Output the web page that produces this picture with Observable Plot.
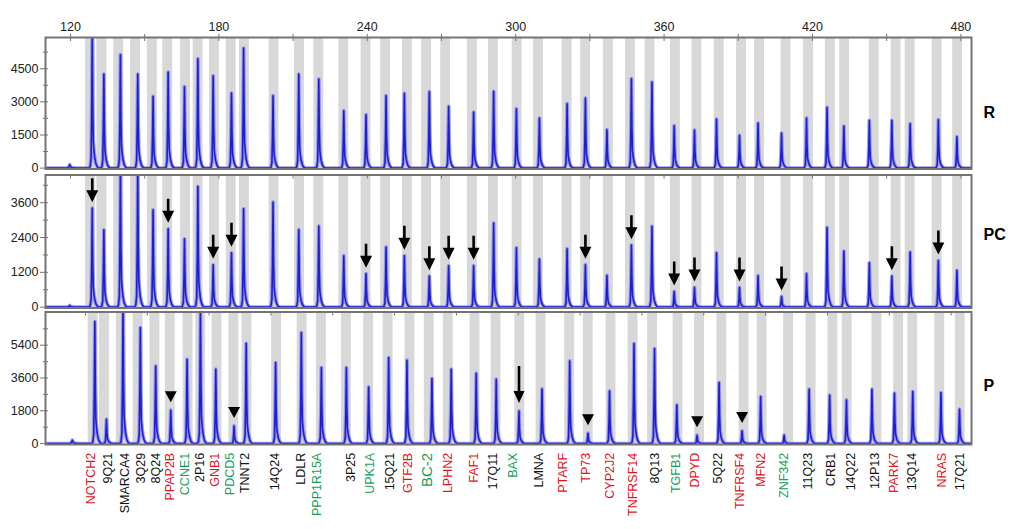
<!DOCTYPE html>
<html><head><meta charset="utf-8">
<script src="https://cdn.jsdelivr.net/npm/d3@7"></script>
<script src="https://cdn.jsdelivr.net/npm/@observablehq/plot@0.6"></script>
<style>
body{margin:0;background:#fff;font-family:"Liberation Sans",Arial,sans-serif}
#wrap{position:relative;width:1018px;height:529px}
#wrap svg{position:absolute;left:0;top:0;overflow:visible}
</style></head><body><div id="wrap"></div>
<script>
// ---------- data ----------
const probes = ["NOTCH2","9Q21","SMARCA4","3Q29","8Q24","PPAP2B","CCNE1","2P16","GNB1","PDCD5","TNNT2","14Q24","LDLR","PPP1R15A","3P25","UPK1A","15Q21","GTF2B","BC-2","LPHN2","FAF1","17Q11","BAX","LMNA","PTARF","TP73","CYP2J2","TNFRSF14","8Q13","TGFB1","DPYD","5Q22","TNFRSF4","MFN2","ZNF342","11Q23","CRB1","14Q22","12P13","PARK7","13Q14","NRAS","17Q21"];
const labelGroup = ["r","k","k","k","k","r","g","k","r","g","k","k","k","g","k","g","k","r","g","r","r","k","g","k","r","r","r","r","k","g","r","k","r","r","g","k","k","k","k","r","k","r","k"];
// peak sizes (nt)
const peakPos = [128.8,133.5,140.2,147.2,153.4,159.5,166.1,171.5,177.7,185.1,190.0,201.9,212.3,220.4,230.5,239.5,247.6,255.0,265.1,272.9,283.0,291.1,300.3,309.6,320.8,328.2,336.9,346.8,355.1,364.1,372.3,381.2,390.5,398.0,407.5,417.6,425.9,432.7,443.0,452.1,459.5,470.9,478.4];
// expected size bins (grey bands)
const binPos = [128.1,132.7,139.5,146.3,153.1,159.3,166.5,171.6,178.2,185.0,190.3,202.3,212.6,220.4,230.5,239.5,247.4,256.2,264.0,271.7,282.5,291.0,300.6,309.2,320.8,328.3,337.5,346.4,354.3,364.6,373.3,382.3,391.3,398.6,409.3,418.4,427.2,433.0,445.0,453.8,459.5,470.4,478.7];
// label positions (nt)
const labelPos = [130.1,136.9,143.6,150.3,156.1,161.8,167.8,173.9,179.9,186.0,192.1,204.2,215.0,221.1,235.2,242.6,250.7,258.1,266.2,274.3,284.6,292.5,300.6,311.1,320.8,330.2,339.6,349.1,357.8,366.6,374.0,383.4,392.2,400.9,410.3,419.8,429.2,437.3,446.7,454.6,462.0,474.1,481.1];
const heightR = [6100,4258,5134,4258,3247,4349,3684,4953,4183,3398,5436,3277,4258,4032,2597,2416,3277,3382,3458,2794,2537,3473,2688,2265,2914,3171,1737,4047,3896,1918,1721,2220,1480,2039,1586,2265,2748,1903,2159,2159,2008,2190,1419];
const heightPC = [3413,2666,4700,4750,3355,2700,2355,4159,1460,1873,3390,3621,2669,2793,1772,1152,2069,1772,1069,1428,1428,2897,2048,1655,2014,1462,1093,2138,2783,541,679,1876,679,1083,369,1152,2748,1931,1531,1069,1897,1610,1266];
const heightP = [6694,1335,7600,6365,4262,1829,4627,7250,4079,969,5505,4444,6091,4170,4170,3109,4719,4573,3567,4079,3859,3530,1792,3000,4536,567,2890,5487,5213,2122,457,3347,695,2579,457,2981,2652,2396,2981,2762,2853,2800,1884];
const bumpPos = 119.7;
const bumpR = 150, bumpPC = 57, bumpP = 180;
const arrowsPC = ["NOTCH2","PPAP2B","GNB1","PDCD5","UPK1A","GTF2B","BC-2","LPHN2","FAF1","TP73","TNFRSF14","TGFB1","DPYD","TNFRSF4","ZNF342","PARK7","NRAS"];
const trianglesP = ["PPAP2B","PDCD5","TP73","DPYD","TNFRSF4"];
const arrowsP = ["BAX"];
const xTicksMajor = [120,180,240,300,360,420,480];
const xTicksMinor = [150,210,270,330,390,450];
const pcTopTicks = [120,150,180,210,240,270,300,330,360,390,420,450,480];
const pTopTicks = [125,150,175,200,225,250,275,300,325,350,375,400,425,450,475];
const yR = {major:[0,1500,3000,4500], minor:[750,2250,3750,5250]};
const yPC = {major:[0,1200,2400,3600], minor:[600,1800,3000,4200]};
const yP = {major:[0,1800,3600,5400], minor:[900,2700,4500,6300]};

// ---------- styling ----------
const W = 1018, H = 529, ML = 45, MR = 47;
const XDOM = [109.9, 484.3];
const BAND_HALF = 2;
const FRAME = "#747474";
const COLORS = {r:"#e3121b", g:"#15a05a", k:"#111111"};
const peakShape = [[-1.3,0],[-0.8,0.015],[-0.45,0.08],[-0.22,0.42],[0,1],[0.2,0.45],[0.42,0.2],[0.7,0.13],[1.0,0.08],[1.45,0.035],[1.95,0.012],[2.5,0]];
const idx = name => probes.indexOf(name);

function traceOf(heights, bump, dom) {
  const pts = [{x: dom[0], y: 0}];
  const peaks = [{p: bumpPos, h: bump, w: 1.6}, ...peakPos.map((p, i) => ({p, h: heights[i], w: 1}))];
  for (const {p, h, w} of peaks) for (const [o, f] of peakShape) pts.push({x: p + o * w, y: h * f});
  pts.push({x: dom[1], y: 0});
  return pts;
}
function arrowSymbol(gap, len, headH, headW, shaftW) {
  return {draw(ctx) {
    const t = -gap, hb = -gap - headH, top = -gap - len, hw = headW / 2, sw = shaftW / 2;
    ctx.moveTo(0, t); ctx.lineTo(-hw, hb); ctx.lineTo(-sw, hb); ctx.lineTo(-sw, top);
    ctx.lineTo(sw, top); ctx.lineTo(sw, hb); ctx.lineTo(hw, hb); ctx.closePath();
  }};
}
function triSymbol(gap, h, w) {
  return {draw(ctx) {
    ctx.moveTo(0, -gap); ctx.lineTo(-w / 2, -gap - h); ctx.lineTo(w / 2, -gap - h); ctx.closePath();
  }};
}
const fmt = d => String(d);

function panel(cfg) {
  const {top, bottom, yDomain, heights, bump, shift, yt, topTicks, name, nameDy, extra} = cfg;
  const dom = [XDOM[0] - shift, XDOM[1] - shift];
  const areaH = bottom - top, areaW = W - ML - MR;
  const tr = traceOf(heights, bump, dom);
  return Plot.plot({
    width: W, height: H, marginLeft: ML, marginRight: MR, marginTop: top, marginBottom: H - bottom,
    x: {domain: dom, axis: null}, y: {domain: yDomain, axis: null}, color: {type: "identity"},
    style: {fontFamily: "'Liberation Sans', Arial, sans-serif", fontSize: "12.5px", color: "#222", background: "transparent", overflow: "visible"},
    marks: [
      Plot.rect(binPos, {x1: d => d - BAND_HALF, x2: d => d + BAND_HALF, fill: "#d8d8d8"}),
      Plot.line(tr, {x: "x", y: "y", stroke: "#8c8cf0", strokeWidth: 3.8, strokeOpacity: 0.85, clip: true}),
      Plot.line(tr, {x: "x", y: "y", stroke: "#1e1ed2", strokeWidth: 1.6, clip: true}),
      Plot.frame({stroke: FRAME, strokeWidth: 2}),
      Plot.tickX(topTicks, {x: d => d, insetBottom: areaH - 4, stroke: FRAME}),
      Plot.tickY([...yt.major, ...yt.minor], {y: d => d, insetRight: areaW - 3, stroke: FRAME}),
      Plot.axisY({ticks: yt.major, tickSize: 5, tickPadding: 2, tickFormat: fmt, label: null, stroke: FRAME}),
      Plot.axisY({ticks: yt.minor, tickSize: 2, tickFormat: () => "", label: null, stroke: FRAME}),
      Plot.text([name], {frameAnchor: "right", dx: 12, dy: nameDy, textAnchor: "start", fontWeight: "bold", fontSize: 16, fill: "#000"}),
      ...extra(dom)
    ]
  });
}

const wrap = document.getElementById("wrap");

wrap.append(panel({
  top: 37, bottom: 168.5, yDomain: [-40, 5913], heights: heightR, bump: bumpR, shift: 0, yt: yR,
  topTicks: [...xTicksMajor, ...xTicksMinor], name: "R", nameDy: 10,
  extra: () => [
    Plot.axisX({anchor: "top", ticks: xTicksMajor, tickSize: 4, tickPadding: 3, tickFormat: fmt, label: null, stroke: FRAME}),
    Plot.axisX({anchor: "top", ticks: xTicksMinor, tickSize: 4, tickFormat: () => "", label: null, stroke: FRAME})
  ]
}));

wrap.append(panel({
  top: 174.5, bottom: 307.5, yDomain: [-30, 4556], heights: heightPC, bump: bumpPC, shift: 0, yt: yPC,
  topTicks: pcTopTicks, name: "PC", nameDy: -7,
  extra: () => [
    Plot.dot(arrowsPC, {x: d => peakPos[idx(d)], y: d => heightPC[idx(d)], symbol: arrowSymbol(6, 24, 12, 12, 2.6), fill: "#000", r: 5})
  ]
}));

const pShift = 1.05;
wrap.append(panel({
  top: 311.5, bottom: 444, yDomain: [-50, 7222], heights: heightP, bump: bumpP, shift: pShift, yt: yP,
  topTicks: pTopTicks, name: "P", nameDy: 8,
  extra: () => [
    Plot.dot(trianglesP, {x: d => peakPos[idx(d)], y: d => heightP[idx(d)], symbol: triSymbol(8, 11, 12), fill: "#000", r: 5}),
    Plot.dot(arrowsP, {x: d => peakPos[idx(d)], y: d => heightP[idx(d)], symbol: arrowSymbol(8, 37, 12, 11, 2.6), fill: "#000", r: 5}),
    Plot.text(probes, {
      x: (d, i) => labelPos[i] - pShift, frameAnchor: "bottom", dy: 8.3, rotate: -90, textAnchor: "end",
      fill: (d, i) => COLORS[labelGroup[i]], fontSize: d => d === "BC-2" ? 15 : 12.5
    })
  ]
}));
</script></body></html>
